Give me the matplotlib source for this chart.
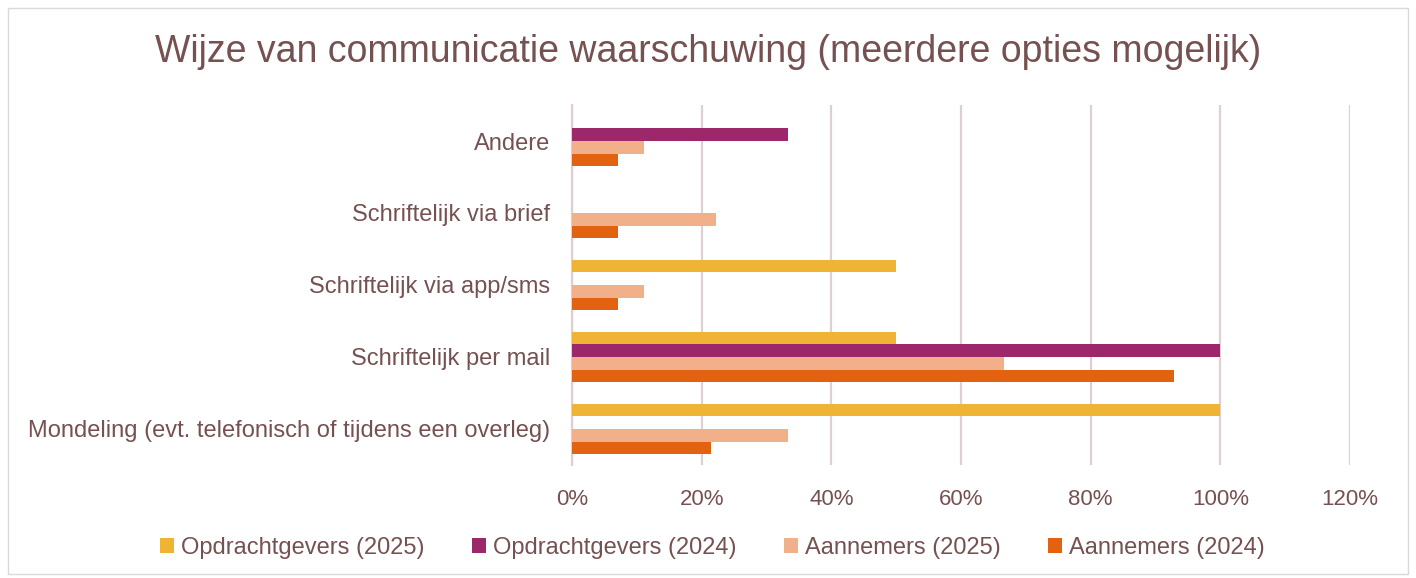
import matplotlib
matplotlib.use("Agg")
import matplotlib.pyplot as plt
import numpy as np
from matplotlib.patches import Rectangle

categories = ["Mondeling (evt. telefonisch of tijdens een overleg)",
              "Schriftelijk per mail",
              "Schriftelijk via app/sms",
              "Schriftelijk via brief",
              "Andere"]
series_names = ["Opdrachtgevers (2025)", "Opdrachtgevers (2024)",
                "Aannemers (2025)", "Aannemers (2024)"]
og_2025 = [1.00, 0.50, 0.50, 0.0, 0.0]
og_2024 = [0.0, 1.00, 0.0, 0.0, 0.333]
an_2025 = [0.333, 0.667, 0.111, 0.222, 0.111]
an_2024 = [0.214, 0.929, 0.071, 0.071, 0.071]
xticks = [0, 0.2, 0.4, 0.6, 0.8, 1.0, 1.2]
xtick_labels = ["0%", "20%", "40%", "60%", "80%", "100%", "120%"]

colors = ["#F0B434", "#9C276A", "#F1B08A", "#E36210"]
text_color = "#765151"
grid_color = "#DDD0D0"

plt.rcParams['font.family'] = ['Liberation Sans', 'DejaVu Sans']

fig = plt.figure(figsize=(14.16, 5.78), dpi=100)
ax = fig.add_axes([572/1416, 1-465/578, (1350-572)/1416, (465-105)/578])

fig.patches.append(Rectangle((8/1416, 4/578), 1400/1416, 566/578, transform=fig.transFigure,
                             fill=False, edgecolor="#D9D9D9", linewidth=1))

all_series = [og_2025, og_2024, an_2025, an_2024]
h = 0.174
y = np.arange(len(categories))
for i, (vals, name, c) in enumerate(zip(all_series, series_names, colors)):
    offs = (1.5 - i) * h
    ax.barh(y + offs, vals, height=h, color=c, label=name, zorder=3)

ax.set_xlim(0, 1.2)
ax.set_ylim(-0.5, len(categories) - 0.5)
ax.set_xticks(xticks)
ax.set_xticklabels(xtick_labels, fontsize=16, color=text_color)
ax.set_yticks(y)
ax.set_yticklabels(categories, fontsize=17, color=text_color)
ax.tick_params(axis='y', length=0, pad=16)
ax.tick_params(axis='x', length=0, pad=17)
ax.grid(axis='x', color=grid_color, linewidth=1.6, zorder=0)
for s in ["top", "right", "bottom"]:
    ax.spines[s].set_visible(False)
ax.spines["left"].set_color(grid_color)
ax.spines["left"].set_linewidth(1.6)

fig.text(0.5, 1-52/578, "Wijze van communicatie waarschuwing (meerdere opties mogelijk)",
         ha="center", va="center", fontsize=27, color=text_color)

handles, labels = ax.get_legend_handles_labels()
leg = fig.legend(handles, labels, loc="center", bbox_to_anchor=(0.503, 1-548/578), ncol=4,
                 frameon=False, fontsize=17, handlelength=0.6, handleheight=0.6,
                 handletextpad=0.3, columnspacing=2.0)
for t in leg.get_texts():
    t.set_color(text_color)

fig.savefig("out.png", dpi=100)
